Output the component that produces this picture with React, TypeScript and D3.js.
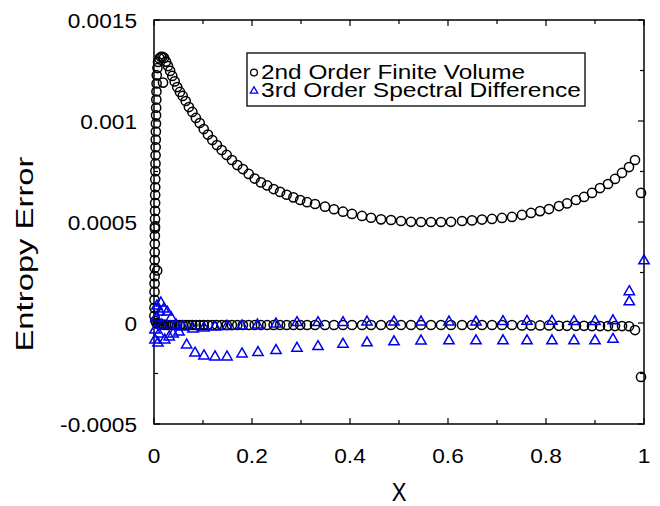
import { useRef, useEffect } from 'react';
import * as d3 from 'd3';

// 2nd order FV, upper branch: column at the wall, the peak, then the long arc
const fvUpperX = [
  0.0008, 0.0009, 0.0010, 0.0011, 0.0012, 0.0013, 0.0014, 0.0015, 0.0016, 0.0017,
  0.0018, 0.0019, 0.0020, 0.0021, 0.0022, 0.0023, 0.0024, 0.0025, 0.0026, 0.0028,
  0.0030, 0.0032, 0.0034, 0.0036, 0.0038, 0.0040, 0.0042, 0.0044, 0.0047, 0.0050,
  0.0053, 0.0056, 0.0065, 0.0184,
  0.0070, 0.0082, 0.0112, 0.0143, 0.0173, 0.0204, 0.0245,
  0.0286, 0.0329, 0.0373, 0.0422, 0.0473, 0.0529, 0.0586, 0.0647, 0.0712, 0.0782,
  0.0855, 0.0933, 0.1014, 0.1100, 0.1190, 0.1284, 0.1382, 0.1484, 0.1590, 0.1700,
  0.1814, 0.1933, 0.2055, 0.2182, 0.2310, 0.2441, 0.2573, 0.2708, 0.2845, 0.2984,
  0.3124, 0.3286, 0.3490, 0.3673, 0.3857, 0.4041, 0.4245, 0.4429, 0.4633, 0.4837,
  0.5041, 0.5245, 0.5449, 0.5653, 0.5857, 0.6061, 0.6286, 0.6490, 0.6694, 0.6898,
  0.7102, 0.7306, 0.7510, 0.7694, 0.7878, 0.8061, 0.8265, 0.8429, 0.8612, 0.8776,
  0.8939, 0.9102, 0.9265, 0.9408, 0.9551, 0.9694, 0.9816, 0.9939,
];
const fvUpperY = [
  0.000035, 0.000075, 0.000115, 0.000155, 0.000195, 0.000232, 0.000272, 0.000312, 0.000350, 0.000392,
  0.000432, 0.000468, 0.000478, 0.000515, 0.000555, 0.000594, 0.000634, 0.000672, 0.000712, 0.000752,
  0.000790, 0.000830, 0.000870, 0.000908, 0.000948, 0.000988, 0.001028, 0.001066, 0.001106, 0.001146,
  0.001186, 0.001226, 0.000260, 0.001190,
  0.001262, 0.001292, 0.001310, 0.001317, 0.001318, 0.001313, 0.001294,
  0.001272, 0.001248, 0.001223, 0.001196, 0.001168, 0.001144, 0.001124, 0.001099, 0.001069, 0.001045,
  0.001015, 0.000990, 0.000960, 0.000933, 0.000906, 0.000881, 0.000856, 0.000832, 0.000807, 0.000782,
  0.000762, 0.000738, 0.000715, 0.000696, 0.000681, 0.000663, 0.000649, 0.000635, 0.000622, 0.000609,
  0.000598, 0.000589, 0.000576, 0.000563, 0.000551, 0.000540, 0.000530, 0.000521, 0.000513, 0.000510,
  0.000505, 0.000501, 0.000500, 0.000500, 0.000500, 0.000501, 0.000505, 0.000508, 0.000512, 0.000515,
  0.000520, 0.000525, 0.000535, 0.000545, 0.000554, 0.000564, 0.000579, 0.000592, 0.000609, 0.000624,
  0.000644, 0.000668, 0.000688, 0.000713, 0.000743, 0.000772, 0.000807, 0.000644,
];

// 2nd order FV, points sitting on (just under) zero
const fvZeroX = [
  0.0030, 0.0050, 0.0082, 0.0112, 0.0143, 0.0173, 0.0204, 0.0245, 0.0286, 0.0329,
  0.0373, 0.0422, 0.0473, 0.0529, 0.0586, 0.0647, 0.0712, 0.0782, 0.0855, 0.0933,
  0.1014, 0.1100, 0.1190, 0.1284, 0.1382, 0.1484, 0.1590, 0.1700, 0.1814, 0.1933,
  0.2055, 0.2182, 0.2310, 0.2441, 0.2573, 0.2708, 0.2845, 0.2984, 0.3124, 0.3286,
  0.3490, 0.3673, 0.3857, 0.4041, 0.4245, 0.4429, 0.4633, 0.4837, 0.5041, 0.5245,
  0.5449, 0.5653, 0.5857, 0.6061, 0.6286, 0.6490, 0.6694, 0.6898, 0.7102, 0.7306,
  0.7510, 0.7694, 0.7878, 0.8061, 0.8265, 0.8429, 0.8612, 0.8776, 0.8939, 0.9102,
  0.9265, 0.9408, 0.9551, 0.9694, 0.9816, 0.9939,
];
const fvZeroY = [
  0.000010, 0.000000, -0.000005, -0.000008, -0.000008, -0.000008, -0.000009, -0.000009, -0.000010, -0.000010,
  -0.000010, -0.000010, -0.000010, -0.000010, -0.000010, -0.000010, -0.000010, -0.000010, -0.000010, -0.000010,
  -0.000010, -0.000010, -0.000010, -0.000010, -0.000010, -0.000010, -0.000010, -0.000010, -0.000010, -0.000010,
  -0.000010, -0.000010, -0.000010, -0.000010, -0.000010, -0.000010, -0.000010, -0.000010, -0.000010, -0.000010,
  -0.000010, -0.000010, -0.000010, -0.000010, -0.000010, -0.000010, -0.000010, -0.000010, -0.000010, -0.000010,
  -0.000010, -0.000010, -0.000010, -0.000010, -0.000010, -0.000010, -0.000010, -0.000010, -0.000010, -0.000010,
  -0.000012, -0.000012, -0.000012, -0.000012, -0.000014, -0.000014, -0.000014, -0.000014, -0.000015, -0.000015,
  -0.000015, -0.000015, -0.000015, -0.000016, -0.000035, -0.000267,
];

// 3rd order SD: cluster at the wall, the band near zero, the lower band
const sdX = [
  0.002, 0.002, 0.004, 0.006, 0.008, 0.010, 0.012, 0.014, 0.016, 0.020,
  0.022, 0.027, 0.031, 0.035, 0.039, 0.045, 0.051, 0.059,
  0.0796, 0.102, 0.1245, 0.149, 0.1796, 0.2112, 0.249, 0.2918, 0.3347, 0.3857,
  0.4347, 0.4898, 0.5449, 0.602, 0.6571, 0.7122, 0.7612, 0.8122, 0.8571, 0.900,
  0.9367, 0.970, 0.970, 1.0,
  0.0667, 0.0837, 0.102, 0.1245, 0.149, 0.1796, 0.2122, 0.249, 0.2918, 0.3347,
  0.3857, 0.4347, 0.4898, 0.5449, 0.602, 0.6571, 0.7122, 0.7612, 0.8122, 0.8571,
  0.900, 0.9367,
];
const sdY = [
  -0.000084, -0.000035, 0.000025, 0.000084, -0.000099, -0.000054, 0.000054, 0.000099, -0.000010, 0.000069,
  -0.000084, 0.000054, -0.000069, 0.000025, -0.000054, -0.000010, -0.000045, -0.000020,
  -0.000030, -0.000025, -0.000020, -0.000017, -0.000015, -0.000010, -0.000005, 0.000002, 0.000002, 0.000002,
  0.000005, 0.000005, 0.000005, 0.000005, 0.000005, 0.000007, 0.000008, 0.000008, 0.000007, 0.000007,
  0.000011, 0.000105, 0.000155, 0.000308,
  -0.000109, -0.000149, -0.000163, -0.000168, -0.000168, -0.000153, -0.000146, -0.000136, -0.000125, -0.000117,
  -0.000105, -0.000098, -0.000093, -0.000089, -0.000088, -0.000088, -0.000088, -0.000088, -0.000088, -0.000088,
  -0.000088, -0.000081,
];

const xTicks = [0, 0.2, 0.4, 0.6, 0.8, 1];
const xTickLabels = ['0', '0.2', '0.4', '0.6', '0.8', '1'];
const yTicks = [-0.0005, 0, 0.0005, 0.001, 0.0015];
const yTickLabels = ['-0.0005', '0', '0.0005', '0.001', '0.0015'];
const seriesNames = ['2nd Order Finite Volume', '3rd Order Spectral Difference'];

const FONT = "'Liberation Sans', Arial, Helvetica, sans-serif";
const BLUE = '#0000f0';

export default function App() {
  const svgRef = useRef<SVGSVGElement>(null);

  useEffect(() => {
    const svg = d3.select(svgRef.current);
    svg.selectAll('*').remove();

    const left = 154, right = 644, top = 20, bottom = 424;
    const x = d3.scaleLinear().domain([0, 1]).range([left, right]);
    const y = d3.scaleLinear().domain([-0.0005, 0.0015]).range([bottom, top]);

    svg.append('rect').attr('width', 660).attr('height', 506).attr('fill', '#fff');

    // ticks, inward on all four sides
    const ticks = svg.append('g').attr('stroke', '#000').attr('stroke-width', 1.2);
    const xMinor = d3.range(0, 1.0001, 0.1);
    const yMinor = d3.range(-0.0005, 0.00150001, 0.00025);
    xMinor.forEach((v, i) => {
      const len = i % 2 === 0 ? 6 : 4;
      ticks.append('line').attr('x1', x(v)).attr('x2', x(v)).attr('y1', bottom).attr('y2', bottom - len);
      ticks.append('line').attr('x1', x(v)).attr('x2', x(v)).attr('y1', top).attr('y2', top + len);
    });
    yMinor.forEach((v, i) => {
      const len = i % 2 === 0 ? 6 : 4;
      ticks.append('line').attr('y1', y(v)).attr('y2', y(v)).attr('x1', left).attr('x2', left + len);
      ticks.append('line').attr('y1', y(v)).attr('y2', y(v)).attr('x1', right).attr('x2', right - len);
    });

    svg.append('rect')
      .attr('x', left).attr('y', top)
      .attr('width', right - left).attr('height', bottom - top)
      .attr('fill', 'none').attr('stroke', '#000').attr('stroke-width', 1.5);

    // tick labels (glyphs in the source are a bit wider than Arial)
    const tl = svg.append('g').attr('font-family', FONT).attr('font-size', 21).attr('fill', '#000');
    yTicks.forEach((v, i) => {
      tl.append('text')
        .attr('transform', `translate(137,${y(v) + 8}) scale(1.08,1)`)
        .attr('text-anchor', 'end')
        .text(yTickLabels[i]);
    });
    xTicks.forEach((v, i) => {
      tl.append('text')
        .attr('transform', `translate(${x(v)},463) scale(1.08,1)`)
        .attr('text-anchor', 'middle')
        .text(xTickLabels[i]);
    });

    // axis titles
    svg.append('text')
      .attr('transform', `translate(${(left + right) / 2},501) scale(0.85,1)`)
      .attr('text-anchor', 'middle')
      .attr('font-family', FONT).attr('font-size', 26)
      .text('X');
    svg.append('text')
      .attr('transform', 'translate(33,254) rotate(-90)')
      .attr('text-anchor', 'middle')
      .attr('font-family', FONT).attr('font-size', 24)
      .attr('textLength', 195).attr('lengthAdjust', 'spacingAndGlyphs')
      .text('Entropy Error');

    // finite volume circles
    const circ = svg.append('g').attr('fill', 'none').attr('stroke', '#000').attr('stroke-width', 1.5);
    circ.selectAll('circle.u')
      .data(fvUpperX)
      .join('circle')
      .attr('class', 'u')
      .attr('cx', (d) => x(d))
      .attr('cy', (_d, i) => y(fvUpperY[i]))
      .attr('r', 4.6);
    circ.selectAll('circle.z')
      .data(fvZeroX)
      .join('circle')
      .attr('class', 'z')
      .attr('cx', (d) => x(d))
      .attr('cy', (_d, i) => y(fvZeroY[i]))
      .attr('r', 4.6);

    // spectral difference triangles
    const tri = d3.symbol(d3.symbolTriangle, 46);
    svg.append('g')
      .attr('fill', 'none').attr('stroke', BLUE).attr('stroke-width', 1.5)
      .selectAll('path')
      .data(sdX)
      .join('path')
      .attr('transform', (d, i) => `translate(${x(d)},${y(sdY[i])})`)
      .attr('d', tri);

    // legend
    const lg = svg.append('g');
    lg.append('rect')
      .attr('x', 247).attr('y', 53).attr('width', 338).attr('height', 53)
      .attr('fill', '#fff').attr('stroke', '#000').attr('stroke-width', 1.3);
    lg.append('circle')
      .attr('cx', 254).attr('cy', 72.5).attr('r', 3.4)
      .attr('fill', 'none').attr('stroke', '#000').attr('stroke-width', 1.3);
    lg.append('path')
      .attr('transform', 'translate(254,91)')
      .attr('d', d3.symbol(d3.symbolTriangle, 24)())
      .attr('fill', 'none').attr('stroke', BLUE).attr('stroke-width', 1.3);
    const lens = [264, 320];
    const bases = [78.5, 97];
    seriesNames.forEach((s, i) => {
      lg.append('text')
        .attr('x', 261).attr('y', bases[i])
        .attr('font-family', FONT).attr('font-size', 19.5)
        .attr('textLength', lens[i]).attr('lengthAdjust', 'spacingAndGlyphs')
        .text(s);
    });
  }, []);

  return (
    <svg
      ref={svgRef}
      width={660}
      height={506}
      style={{ position: 'absolute', left: 0, top: 0 }}
    />
  );
}
